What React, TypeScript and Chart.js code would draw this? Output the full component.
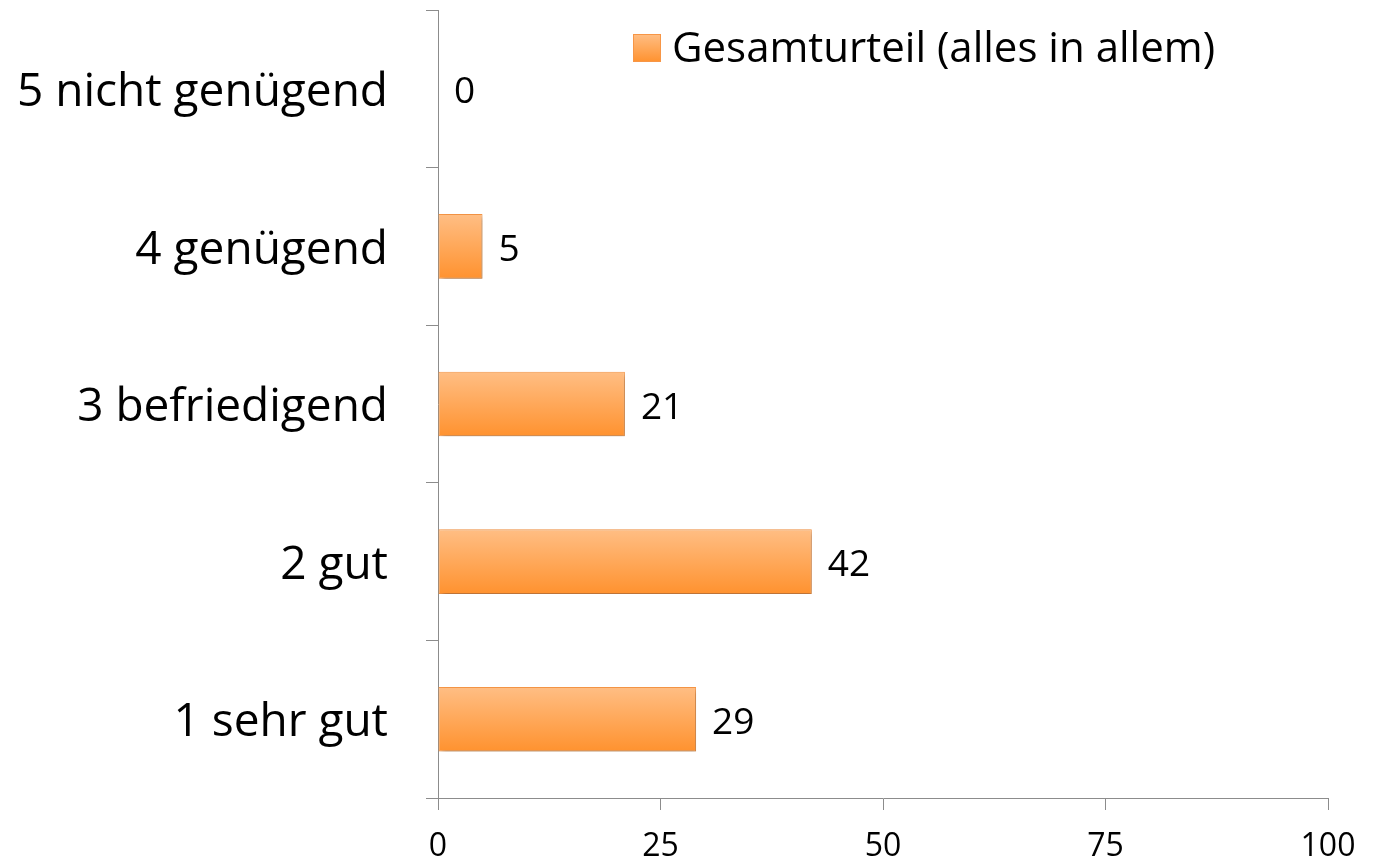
import React, { useEffect, useRef } from "react";
import { Chart, registerables } from "chart.js";

Chart.register(...registerables);

const categories = ["5 nicht genügend", "4 genügend", "3 befriedigend", "2 gut", "1 sehr gut"];
const values = [0, 5, 21, 42, 29];
const seriesLabel = "Gesamturteil (alles in allem)";
const xTicks = [0, 25, 50, 75, 100];

const FONT = "'Open Sans', Lato, sans-serif";

export default function App() {
  const ref = useRef<HTMLCanvasElement | null>(null);

  useEffect(() => {
    const canvas = ref.current;
    if (!canvas) return;

    const makeFill = (c: any) => {
      const chart = c.chart;
      const ys = chart.scales?.y;
      if (!ys || c.dataIndex === undefined) return "#FFA552";
      const center = ys.getPixelForValue(c.dataIndex);
      const band = (ys.bottom - ys.top) / categories.length;
      const half = band * 0.205;
      if (!isFinite(center) || !isFinite(half) || half <= 0) return "#FFA552";
      const g = chart.ctx.createLinearGradient(0, center - half, 0, center + half);
      g.addColorStop(0, "#FFBE84");
      g.addColorStop(1, "#FF922F");
      return g;
    };

    const shadowPlugin = {
      id: "barShadow",
      beforeDatasetsDraw(chart: any) {
        const ctx = chart.ctx;
        ctx.save();
        ctx.shadowColor = "rgba(0,0,0,0.28)";
        ctx.shadowBlur = 5;
        ctx.shadowOffsetX = 2;
        ctx.shadowOffsetY = 3;
      },
      afterDatasetsDraw(chart: any) {
        chart.ctx.restore();
      },
    };

    const labelPlugin = {
      id: "valueLabels",
      afterDatasetsDraw(chart: any) {
        const ctx = chart.ctx;
        const meta = chart.getDatasetMeta(0);
        ctx.save();
        ctx.font = `37px ${FONT}`;
        ctx.fillStyle = "#000";
        ctx.textAlign = "left";
        ctx.textBaseline = "middle";
        meta.data.forEach((el: any, i: number) => {
          ctx.fillText(String(values[i]), el.x + 16, el.y + 4);
        });
        ctx.restore();
      },
    };

    const legendPlugin = {
      id: "customLegend",
      afterDraw(chart: any) {
        const ctx = chart.ctx;
        const ds = chart.data.datasets[0];
        const x0 = 633;
        const yMid = 48;
        ctx.save();
        const g = ctx.createLinearGradient(0, yMid - 14, 0, yMid + 14);
        g.addColorStop(0, "#FFBE84");
        g.addColorStop(1, "#FF922F");
        ctx.fillStyle = g;
        ctx.fillRect(x0, yMid - 14, 28, 28);
        ctx.strokeStyle = "#F79646";
        ctx.lineWidth = 1;
        ctx.strokeRect(x0 + 0.5, yMid - 13.5, 27, 27);
        ctx.font = `42px ${FONT}`;
        ctx.fillStyle = "#000";
        ctx.textBaseline = "middle";
        ctx.textAlign = "left";
        ctx.fillText(ds.label, x0 + 39, yMid + 2);
        ctx.restore();
      },
    };

    const chart = new Chart(canvas, {
      type: "bar",
      data: {
        labels: categories,
        datasets: [
          {
            label: seriesLabel,
            data: values,
            backgroundColor: makeFill,
            borderColor: "#F79646",
            borderWidth: 1,
            borderSkipped: false,
            barPercentage: 0.41,
            categoryPercentage: 1,
          },
        ],
      },
      options: {
        indexAxis: "y",
        responsive: false,
        animation: false,
        maintainAspectRatio: false,
        layout: { padding: { top: 10, right: 47, left: 0, bottom: 0 } },
        plugins: {
          legend: { display: false },
          tooltip: { enabled: false },
        },
        scales: {
          x: {
            min: 0,
            max: 100,
            afterBuildTicks(axis: any) {
              axis.ticks = xTicks.map((v) => ({ value: v }));
            },
            afterFit(axis: any) {
              axis.height = 64;
              axis.paddingLeft = 0;
              axis.paddingRight = 0;
            },
            border: { display: true, color: "#8c8c8c", width: 1 },
            grid: {
              display: true,
              drawOnChartArea: false,
              drawTicks: true,
              tickLength: 12,
              color: "#8c8c8c",
            },
            ticks: {
              color: "#000",
              font: { family: FONT, size: 32 },
              padding: 18,
              maxRotation: 0,
            },
          },
          y: {
            afterFit(axis: any) {
              axis.width = 438;
              axis.paddingTop = 0;
              axis.paddingBottom = 0;
            },
            border: { display: true, color: "#8c8c8c", width: 1 },
            grid: {
              display: true,
              offset: true,
              drawOnChartArea: false,
              drawTicks: true,
              tickLength: 12,
              color: "#8c8c8c",
            },
            ticks: {
              color: "#000",
              font: { family: FONT, size: 46 },
              padding: 38,
              labelOffset: 4,
            },
          },
        },
      },
      plugins: [shadowPlugin, labelPlugin, legendPlugin],
    });

    return () => chart.destroy();
  }, []);

  return (
    <div style={{ position: "fixed", left: 0, top: 0, width: 1375, height: 862, background: "#fff" }}>
      <canvas ref={ref} width={1375} height={862} style={{ display: "block" }} />
    </div>
  );
}
